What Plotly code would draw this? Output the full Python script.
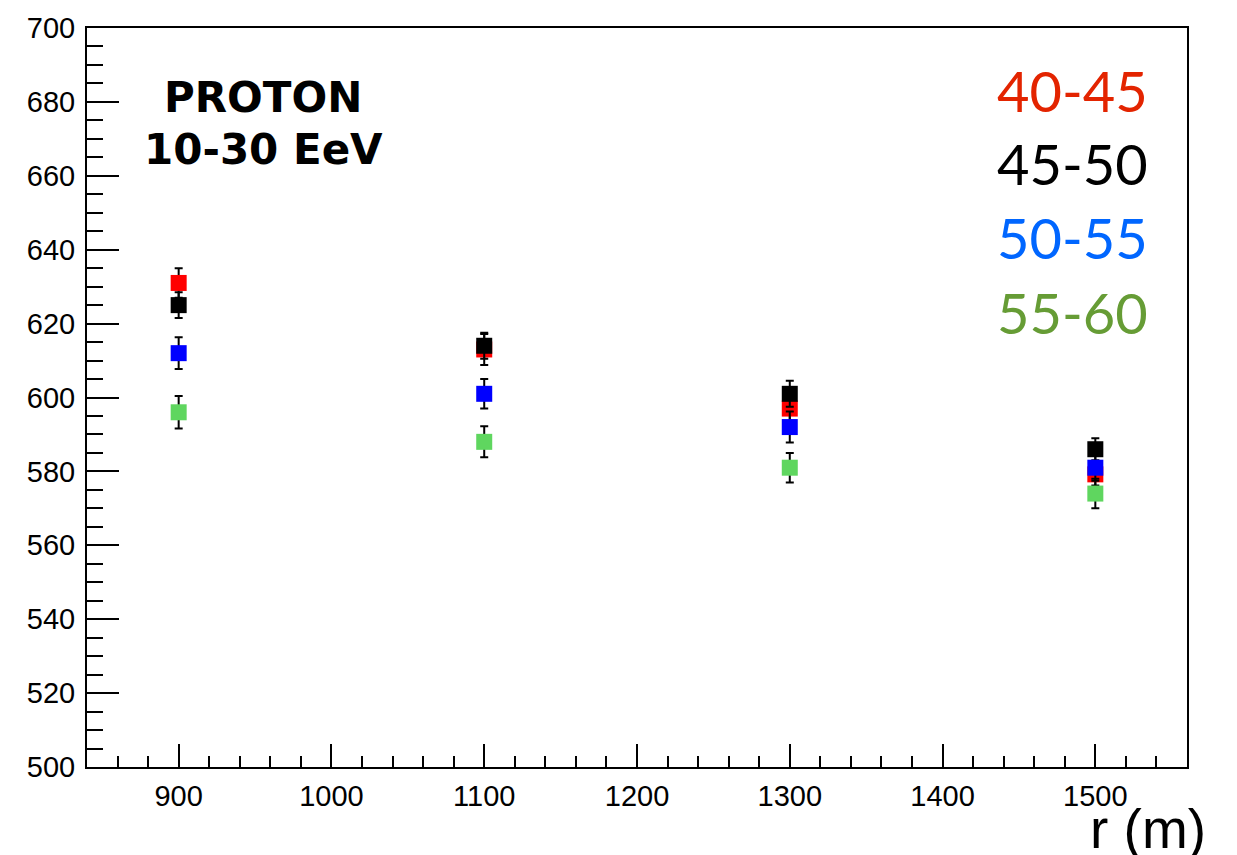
import plotly.graph_objects as go

r_values = [900, 1100, 1300, 1500]
series_names = ["40-45", "45-50", "50-55", "55-60"]
y_40_45 = [631.0, 613.0, 597.0, 579.2]
e_40_45 = [4.0, 4.2, 3.5, 3.0]
y_45_50 = [625.0, 614.0, 601.0, 586.0]
e_45_50 = [3.5, 3.5, 3.5, 3.0]
y_50_55 = [612.0, 601.0, 592.0, 581.0]
e_50_55 = [4.3, 4.0, 4.2, 3.5]
y_55_60 = [596.0, 588.0, 581.0, 574.0]
e_55_60 = [4.4, 4.2, 4.0, 4.0]

marker_colors = ["#ff0000", "#000000", "#0000ff", "#5fd65f"]
label_colors = ["#e32400", "#000000", "#0066ff", "#669c35"]
ys = [y_40_45, y_45_50, y_50_55, y_55_60]
es = [e_40_45, e_45_50, e_50_55, e_55_60]

fig = go.Figure()
for name, y, e, c in zip(series_names, ys, es, marker_colors):
    fig.add_trace(go.Scatter(
        x=r_values, y=y, mode="markers", name=name,
        marker=dict(symbol="square", size=16, color=c, line=dict(width=0)),
        error_y=dict(type="data", array=e, visible=True, color="black",
                     thickness=2, width=4),
        showlegend=False,
    ))

tickfont = dict(family="Liberation Sans, Arial, sans-serif", size=29, color="black")

fig.update_layout(
    width=1237, height=855,
    margin=dict(l=87, r=50, t=20, b=88),
    paper_bgcolor="white", plot_bgcolor="white",
    xaxis=dict(range=[840, 1560], dtick=100, tick0=900, ticks="inside", ticklen=23,
               tickwidth=1.5, tickcolor="black", showline=True, linewidth=2,
               linecolor="black", mirror=True, showgrid=False, zeroline=False,
               tickfont=tickfont, ticklabelstandoff=2,
               minor=dict(dtick=20, tick0=900, ticks="inside", ticklen=11,
                          tickwidth=1.5, tickcolor="black", showgrid=False)),
    yaxis=dict(range=[500, 700], dtick=20, tick0=500, ticks="inside", ticklen=32,
               tickwidth=1.5, tickcolor="black", showline=True, linewidth=2,
               linecolor="black", mirror=True, showgrid=False, zeroline=False,
               tickfont=tickfont, ticklabelstandoff=4,
               minor=dict(dtick=5, tick0=500, ticks="inside", ticklen=16,
                          tickwidth=1.5, tickcolor="black", showgrid=False)),
)

label_y = [0.916, 0.816, 0.716, 0.615]
for name, c, yy in zip(series_names, label_colors, label_y):
    fig.add_annotation(x=0.966, y=yy, xref="paper", yref="paper", text=name,
                       showarrow=False, xanchor="right", yanchor="middle",
                       font=dict(family="Lato, sans-serif", size=56, color=c))

fig.add_annotation(x=0.16, y=0.906, xref="paper", yref="paper", text="<b>PROTON</b>",
                   showarrow=False, xanchor="center", yanchor="middle",
                   font=dict(family="DejaVu Sans, sans-serif", size=42, color="black"))
fig.add_annotation(x=0.16, y=0.835, xref="paper", yref="paper", text="<b>10-30 EeV</b>",
                   showarrow=False, xanchor="center", yanchor="middle",
                   font=dict(family="DejaVu Sans, sans-serif", size=42, color="black"))

fig.add_annotation(x=1.019, y=-0.084, xref="paper", yref="paper", text="r (m)",
                   showarrow=False, xanchor="right", yanchor="middle",
                   font=dict(family="Liberation Sans, Arial, sans-serif", size=55, color="black"))

fig.write_html("out.html", config={"displayModeBar": False},
               post_script="document.body.style.margin='0';document.body.style.overflow='hidden';")
